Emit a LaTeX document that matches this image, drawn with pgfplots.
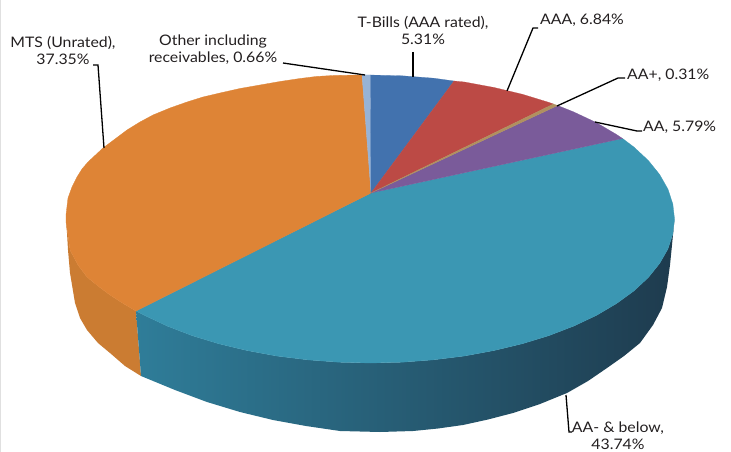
\documentclass[border=0pt]{standalone}
\usepackage{pgfplots}
\pgfplotsset{compat=1.18}
\usepackage{fontspec}
\setmainfont[FakeStretch=1.09]{Lato}
\definecolor{cOrange}{HTML}{DE8436}
\definecolor{cOrangeS}{HTML}{CB7C32}
\definecolor{cTeal}{HTML}{3B97B3}
\definecolor{cTealL}{HTML}{2F7D99}
\definecolor{cTealM}{HTML}{224A5F}
\definecolor{cTealR}{HTML}{1E3B4E}
\definecolor{cBlue}{HTML}{4272AE}
\definecolor{cRed}{HTML}{BC4A45}
\definecolor{cPurple}{HTML}{7A5B9A}
\definecolor{cOther}{HTML}{97B3D6}
\definecolor{cTan}{HTML}{B0905F}
\definecolor{txt}{HTML}{231F20}
\begin{document}
\begin{tikzpicture}[font=\fontsize{14.5}{17}\selectfont]
\begin{axis}[
    scale only axis, width=731pt, height=452pt,
    xmin=0, xmax=731, ymin=0, ymax=452, y dir=reverse,
    axis lines=none,
]
% page background, sets the picture's box
\addplot[fill=white, draw=none] coordinates {(0,0) (731,0) (731,452) (0,452)} -- cycle;
\addplot[draw=black!12, line width=1pt] coordinates {(0.5,0) (0.5,452)};

% side walls
\addplot[fill=cOrangeS, draw=none] coordinates {
 (136,311) (141,376) (125,366) (110,353) (98,343) (87,330) (80,318) (75,303) (70,273) (68,250) (67,233) (66,222)
 (68,235) (70,250) (78,265) (87,277) (98,286) (110,295) (124,304)} -- cycle;
\addplot[draw=none, left color=cTealL, middle color=cTealM, right color=cTealR] coordinates {
 (136,311) (144.6,315.4) (167.1,326) (191.8,335.5) (218.5,343.7) (246.9,350.5) (276.6,356) (307.3,359.8)
 (338.7,362.2) (370.5,363) (402.3,362.2) (433.7,359.8) (464.4,356) (494.1,350.5) (522.5,343.7) (549.2,335.5)
 (573.9,326) (596.4,315.4) (616.4,303.6) (633.8,291) (648.2,277.6) (659.6,263.5) (667.9,249) (672.8,234) (674.5,219)
 (672,245) (670,265) (667,287) (662,308) (653,325) (640,343) (624,356) (607,368) (588,381) (567,393) (540,404)
 (513,413) (488,419.5) (463,425) (438,428.5) (413,431) (380,432) (340,431) (306,426) (273,420) (240,412) (207,402)
 (175,390) (141,376)} -- cycle;

% top face
\addplot[fill=cTeal, draw=cTeal, line width=0.3pt] coordinates {
 (371,193) (622.5,138.5) (633.8,147) (648.2,160.4) (659.6,174.5) (667.9,189.1) (672.8,204) (674.5,219)
 (672.8,234) (667.9,249) (659.6,263.5) (648.2,277.6) (633.8,291) (616.4,303.6) (596.4,315.4) (573.9,326)
 (549.2,335.5) (522.5,343.7) (494.1,350.5) (464.4,356) (433.7,359.8) (402.3,362.2) (370.5,363) (338.7,362.2)
 (307.3,359.8) (276.6,356) (246.9,350.5) (218.5,343.7) (191.8,335.5) (167.1,326) (144.6,315.4) (136,311)} -- cycle;
\addplot[fill=cOrange, draw=cOrange, line width=0.3pt] coordinates {
 (371,193) (136,311) (124,304) (110,295) (98,286) (87,277) (78,265) (70,250) (68,235) (66,222)
 (66,215) (68,198) (72,187) (77,177) (82,169) (88,162) (103,148) (115,139) (127,130) (140,122) (153,115) (170,108)
 (187,102) (203,97) (220,93) (240,88.5) (260,85) (280,81.5) (300,78.5) (316,76.5) (333,75.5) (362,75)} -- cycle;
\addplot[fill=cOther, draw=cOther, line width=0.2pt] coordinates {(371,193) (362,75) (370.5,75)} -- cycle;
\addplot[fill=cBlue, draw=cBlue, line width=0.2pt] coordinates {
 (371,193) (370.5,75) (402.3,75.8) (433.7,78.2) (454,81)} -- cycle;
\addplot[fill=cRed, draw=cRed, line width=0.2pt] coordinates {
 (371,193) (454,81) (464.4,82) (494.1,87.5) (522.5,94.3) (549.2,102.5) (553.4,104)} -- cycle;
\addplot[fill=cPurple, draw=cPurple, line width=0.2pt] coordinates {
 (371,193) (557.7,105.5) (573.9,112) (596.4,122.6) (616.4,134.4) (622.5,138.5)} -- cycle;
\addplot[fill=cTan, draw=cTan, line width=0.2pt] coordinates {(371,193) (553.4,104) (557.7,105.5)} -- cycle;

% leader lines
\addplot[black, line width=1.3pt] coordinates {(93,65) (98,65) (104,148)};
\addplot[black, line width=1.3pt] coordinates {(283,63) (365,75)};
\addplot[black, line width=1.3pt] coordinates {(413,52) (413,77)};
\addplot[black, line width=1.3pt] coordinates {(538,28) (533,28) (507,91)};
\addplot[black, line width=1.3pt] coordinates {(625,78) (618,78) (557,106)};
\addplot[black, line width=1.3pt] coordinates {(642,131) (637,131) (595,122)};
\addplot[black, line width=1.3pt] coordinates {(566,395) (569,432) (572,432)};

% labels
\node[text=txt, align=center] at (axis cs:63,50.5) {MTS (Unrated),\\37.35\%};
\node[text=txt, align=center] at (axis cs:213,50) {Other including\\receivables, 0.66\%};
\node[text=txt, align=center] at (axis cs:423,30.5) {T-Bills (AAA rated),\\5.31\%};
\node[text=txt, anchor=west, inner sep=0pt] at (axis cs:540,20) {AAA, 6.84\%};
\node[text=txt, anchor=west, inner sep=0pt] at (axis cs:627,75) {AA+, 0.31\%};
\node[text=txt, anchor=west, inner sep=0pt] at (axis cs:643,127) {AA, 5.79\%};
\node[text=txt, align=center] at (axis cs:618,435.5) {AA- \& below,\\43.74\%};
\end{axis}
\end{tikzpicture}
\end{document}
